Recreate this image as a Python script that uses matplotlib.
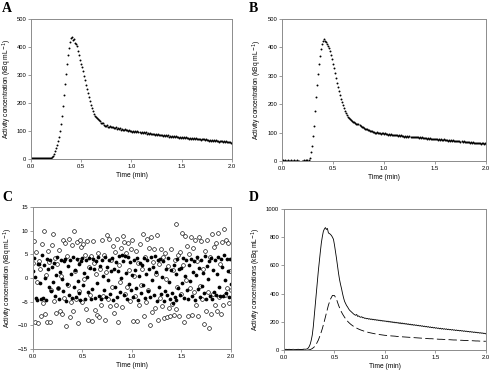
import matplotlib
matplotlib.use("Agg")
import matplotlib.pyplot as plt
import numpy as np

plt.rcParams['font.family'] = ['Liberation Sans', 'DejaVu Sans']

# sampling step of the time axis (min)
dt = 0.01
dt_dash = 0.02

# panel A: measured activity (kBq/mL)
act_a = [3, 3, 3, 2, 2, 2, 2, 2, 2, 2, 2, 2, 2, 2, 2, 2, 2, 2, 3, 3, 4,
         6, 10, 17, 27, 38, 50, 63, 80, 100, 125,
         155, 190, 230, 268, 305, 340, 372, 398, 418, 432,
         436, 424, 428, 415, 410, 402, 386, 370, 354, 340,
         328, 316, 298, 281, 264, 250, 237, 221, 206, 194,
         182, 171, 161, 153, 150, 147, 142, 139, 135, 130,
         127, 129, 123, 119, 118, 121, 116, 114, 117, 115,
         113, 116, 111, 110, 113, 108, 111, 107, 109, 105,
         108, 104, 103, 107, 102, 105, 100, 103, 99, 101,
         98, 101, 97, 100, 96, 99, 95, 97, 94, 96,
         93, 96, 92, 95, 91, 93, 90, 92, 89, 91,
         88, 91, 87, 89, 86, 89, 85, 87, 84, 86,
         83, 86, 82, 84, 81, 84, 80, 83, 79, 81,
         80, 82, 78, 81, 77, 79, 76, 79, 75, 77,
         76, 78, 75, 77, 74, 76, 73, 75, 72, 74,
         73, 75, 72, 74, 71, 73, 70, 72, 69, 71,
         70, 72, 68, 71, 67, 69, 66, 68, 65, 67,
         66, 68, 64, 67, 63, 65, 62, 64, 63, 65,
         62, 64, 61, 63, 60, 62, 59, 61, 58, 57]

# panel B
act_b = [2, 2, 1, 2, 1, 1, 2, 1, 1, 2, 1, 1, 2, 1, 1, 2, 1, 0, -2, -3, -1,
         1, 2, 1, 3, 2, 5, 12, 30, 52, 88,
         125, 175, 225, 268, 308, 342, 370, 395, 412, 422,
         428, 424, 419, 413, 406, 397, 387, 375, 360, 343,
         327, 311, 292, 275, 259, 245, 232, 219, 207, 196,
         186, 177, 169, 162, 156, 151, 147, 144, 141, 138,
         136, 134, 132, 131, 129, 126, 123, 120, 118, 116,
         114, 112, 111, 109, 108, 106, 105, 104, 103, 101,
         100, 99, 101, 98, 97, 99, 96, 98, 97, 95,
         97, 94, 96, 93, 95, 92, 94, 91, 93, 90,
         92, 90, 91, 89, 90, 88, 91, 87, 89, 86,
         89, 86, 88, 85, 87, 85, 86, 84, 86, 83,
         85, 83, 84, 82, 84, 81, 83, 80, 82, 80,
         81, 79, 81, 78, 80, 77, 79, 78, 77, 79,
         76, 78, 75, 77, 74, 77, 75, 73, 76, 74,
         73, 75, 72, 74, 71, 73, 70, 73, 71, 72,
         70, 72, 69, 71, 68, 70, 67, 69, 68, 66,
         68, 66, 67, 65, 67, 64, 66, 63, 65, 64,
         63, 65, 62, 64, 61, 63, 62, 60, 63, 61]

# panel C: filled and open circles
filled_c = [1.5, 4.2, 0.3, -4.3, -4.6, 2.9, 3.0, -1.0, -4.4, 4.8,
            -4.2, 2.8, 0.1, -4.6, 4.0, 2.0, -1.8, 3.9, -2.8, 2.3,
            -0.9, 3.1, -3.8, 0.6, 4.5, -2.1, -4.5, 1.2, 3.8, -0.3,
            -2.7, 3.6, 4.1, -4.9, -1.2, 2.5, -3.6, 3.7, 0.8, -4.3,
            4.4, -2.0, 1.7, -4.1, 4.0, -0.6, 2.9, -3.2, -4.6, 3.5,
            4.2, -1.5, 1.1, -4.4, 3.8, 0.2, -3.0, 4.3, 2.2, -4.5,
            -2.4, 4.0, 1.9, -4.3, 3.6, -1.0, 4.5, -3.8, 2.6, -4.4,
            3.9, 0.5, -2.6, 4.4, -4.1, 2.3, -0.4, 3.7, -3.4, 1.4,
            4.3, -4.7, 2.0, -1.9, 3.4, -4.0, 1.5, 4.6, -2.9, 0.1,
            4.9, 3.6, -3.5, 4.7, 1.0, -4.4, 4.4, -1.3, 3.3, -2.5,
            0.7, -4.0, 3.9, 1.6, -2.2, 4.3, -4.6, 0.4, 3.1, -3.1,
            2.8, -1.5, 4.2, -4.3, 0.9, 3.9, -2.7, 1.8, -4.1, 4.4,
            -0.5, 2.4, -3.6, 4.6, 1.2, -4.8, 3.7, -2.0, 4.0, -3.3,
            0.3, 3.5, -4.9, -2.8, 2.0, -3.6, 4.2, -0.9, -4.4, 1.6,
            -3.1, -5.2, 2.7, -4.0, 0.8, -4.6, 4.1, -2.2, 1.9, -3.6,
            2.1, -1.1, 4.3, -4.2, 0.4, 3.8, -2.5, -4.5, 2.8, -0.7,
            4.1, -3.9, 1.3, 3.6, -4.6, 0.6, 4.4, -2.3, 2.2, -4.1,
            3.9, -1.6, 1.0, -3.2, 4.6, -4.4, 2.6, -0.2, 3.5, -3.8,
            4.2, -4.5, 1.6, -2.9, 3.8, -3.5, 0.9, 4.5, -1.8, -3.7,
            4.0, 2.4, -3.9, 4.8, -0.5, -3.1, 4.1, 1.5, -4.0, 4.0,
            -1.2]
open_c = [3.2, 7.8, -9.3, 5.6, -0.8, -9.6, 3.5, 1.9, -8.0, 7.1,
          -5.2, 9.9, -7.6, 0.7, -9.3, 5.8, 3.3, -9.3, -2.6, 7.0,
          9.2, -4.8, 4.3, -7.3, 2.9, -2.1, 6.0, -7.0, 0.5, -7.6,
          8.0, -4.2, 7.5, -10.1, 4.6, -1.5, 8.3, -8.2, -5.0, 6.9,
          -7.0, 9.9, 1.4, -4.5, 7.7, -9.6, 3.8, -2.8, 8.0, 6.6,
          -5.0, 7.2, -0.3, 4.9, -6.6, 7.9, -8.8, 2.4, -3.5, 4.6,
          -9.0, 7.9, 3.1, -6.8, 0.9, -7.8, 5.2, -8.3, 2.0, -5.7,
          8.1, -3.8, 4.8, -8.9, 1.3, 9.1, -4.4, 8.2, -6.0, 3.9,
          -1.8, 6.8, -7.3, 5.5, -5.8, 8.2, -9.3, 2.7, -0.9, 6.3,
          -6.2, 8.8, 7.6, -3.4, 5.3, -2.0, 7.4, 1.6, -4.9, 6.1,
          8.0, -9.0, 0.4, -3.7, 5.7, -9.1, 3.2, -5.7, 7.2, -1.5,
          2.0, 9.4, -8.0, 4.4, -5.0, 8.2, -2.5, 6.3, -10.0, 8.6,
          -7.1, 3.4, 6.1, -6.3, 0.8, 9.0, -8.9, 2.9, -4.3, 6.2,
          -6.0, 4.5, -8.4, 5.2, -0.2, -8.2, 2.5, -6.4, -8.0, 6.1,
          -5.4, 1.6, -7.8, 3.9, -6.6, 11.4, -1.9, 4.8, -8.0, 5.5,
          -3.4, 9.6, 2.7, -9.3, 8.9, -0.4, 6.8, -8.0, 5.0, -2.1,
          8.7, -7.9, 6.3, -3.0, 8.0, -5.6, 3.5, -8.0, 8.6, -1.7,
          7.8, -4.4, 2.0, -9.8, 5.8, -6.9, 8.1, -2.9, -10.5, 4.4,
          -7.5, 9.3, -3.3, 6.6, -5.8, 7.4, -7.0, 9.5, -4.0, 2.9,
          -7.5, 7.7, -5.7, 10.4, -3.5, 8.0, -2.2, 7.5, -5.3, 1.5,
          -2.5]

# panel D: solid curve (step dt) and dashed curve (step dt_dash)
solid_d = [5, 4, 5, 4, 4, 5, 4, 4, 4, 5, 4, 4, 4, 4, 5, 4, 4, 4, 4, 5, 6,
           5, 6, 8, 14, 25, 42, 70, 106, 165, 245,
           319, 400, 485, 560, 630, 697, 760, 805, 842, 858,
           868, 855, 862, 830, 826, 820, 812, 800, 785, 745,
           700, 650, 595, 545, 500, 465, 435, 400, 370, 345,
           330, 315, 305, 292, 282, 275, 268, 262, 255, 250,
           246, 252, 238, 242, 235, 232, 236, 228, 230, 224,
           226, 221, 224, 218, 222, 216, 220, 214, 218, 212,
           216, 210, 214, 208, 212, 206, 210, 204, 208, 203,
           206, 200, 205, 198, 203, 196, 201, 194, 199, 192,
           197, 191, 195, 188, 194, 186, 192, 185, 190, 183,
           188, 181, 186, 179, 184, 177, 182, 175, 180, 174,
           178, 172, 176, 170, 174, 168, 172, 166, 170, 164,
           168, 162, 166, 160, 164, 158, 162, 156, 160, 154,
           158, 153, 156, 150, 155, 148, 153, 147, 151, 146,
           150, 144, 148, 143, 146, 141, 145, 140, 143, 138,
           142, 137, 140, 135, 139, 134, 137, 132, 136, 131,
           134, 129, 132, 127, 131, 126, 129, 124, 128, 123,
           126, 121, 124, 119, 123, 118, 121, 116, 119, 114]
dashed_d = [0, 0, 0, 0, 0, 0, 0, 0, 0, 0, 0,
            0, 0, 3, 10, 22, 42, 70, 108, 152, 205,
            262, 318, 360, 387, 386, 360, 318, 282, 255, 232,
            212, 196, 183, 172, 163, 155, 148, 142, 137, 132,
            128, 124, 121, 118, 115, 112, 110, 108, 106, 104,
            103, 102, 100, 99, 98, 96, 95, 94, 93, 92,
            91, 90, 89, 88, 87, 86, 85, 84, 83, 82,
            81, 80, 80, 79, 78, 77, 76, 76, 75, 74,
            73, 73, 72, 71, 71, 70, 69, 69, 68, 67,
            67, 66, 66, 65, 64, 64, 63, 63, 62, 62]

t = np.arange(len(act_a)) * dt
t_dash = np.arange(len(dashed_d)) * dt_dash

fig = plt.figure(figsize=(4.9, 3.74), dpi=100)

spine_col = '#8c8c8c'
tick_fs = 4.2
lab_fs = 4.8


def style(ax, ylim, yticks, ylabel):
    ax.set_xlim(0, 2.0)
    ax.set_ylim(*ylim)
    ax.set_xticks([0, 0.5, 1.0, 1.5, 2.0])
    ax.set_xticklabels(['0.0', '0.5', '1.0', '1.5', '2.0'])
    ax.set_yticks(yticks)
    for s in ax.spines.values():
        s.set_color(spine_col)
        s.set_linewidth(0.7)
    ax.tick_params(direction='out', length=2, width=0.6, color=spine_col,
                   labelsize=tick_fs, pad=1.5, top=False, right=False)
    ax.set_xlabel('Time (min)', fontsize=lab_fs, labelpad=2)
    ax.set_ylabel(ylabel, fontsize=lab_fs, labelpad=2)


ylab = 'Activity concentration (kBq mL$^{-1}$)'

ax_a = fig.add_axes([0.0633, 0.5749, 0.410, 0.3743])
ax_a.plot(t, act_a, 'o', ms=1.4, color='black', mew=0)
style(ax_a, (0, 500), range(0, 501, 100), ylab)

ax_b = fig.add_axes([0.5755, 0.5695, 0.4163, 0.3797])
ax_b.plot(t, act_b, 'o', ms=1.4, color='black', mew=0)
style(ax_b, (0, 500), range(0, 501, 100), ylab)

ax_c = fig.add_axes([0.0673, 0.0668, 0.404, 0.3797])
ax_c.plot(t, open_c, 'o', ms=2.7, mfc='white', mec='black', mew=0.45)
ax_c.plot(t, filled_c, 'o', ms=2.7, color='black', mew=0)
style(ax_c, (-15, 15), range(-15, 16, 5), ylab)

ax_d = fig.add_axes([0.5796, 0.0642, 0.412, 0.377])
ax_d.plot(t, solid_d, '-', lw=0.6, color='black')
ax_d.plot(t_dash, dashed_d, '-', lw=0.6, color='black', dashes=(10, 4))
style(ax_d, (0, 1000), range(0, 1001, 200),
      'Activity concentrations (kBq mL$^{-1}$)')

for x, y, s in [(0.004, 0.995, 'A'), (0.507, 0.995, 'B'),
                (0.004, 0.49, 'C'), (0.507, 0.49, 'D')]:
    fig.text(x, y, s, fontsize=10, fontweight='bold',
             family=['Liberation Serif', 'DejaVu Serif'], va='top', ha='left')

fig.savefig('out.png', dpi=100)
